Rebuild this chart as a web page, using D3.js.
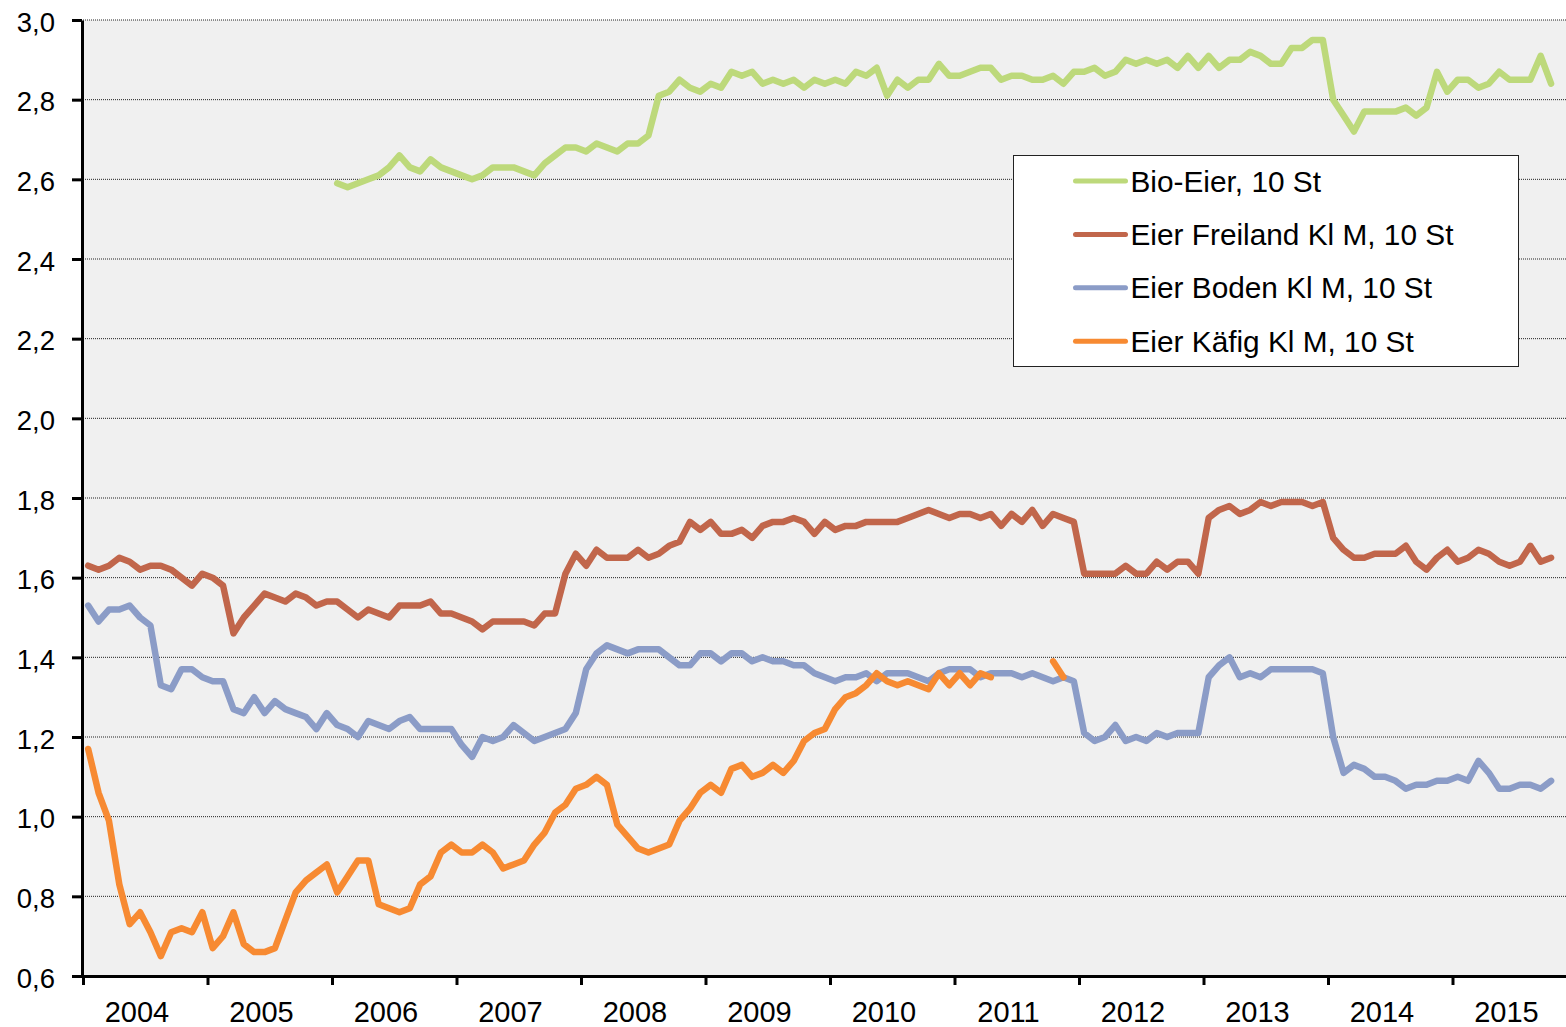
<!DOCTYPE html>
<html>
<head>
<meta charset="utf-8">
<script src="https://cdn.jsdelivr.net/npm/d3@7"></script>
<style>
  html, body { margin: 0; padding: 0; background: #fff; }
  svg { display: block; font-family: "Liberation Sans", Arial, sans-serif; }
</style>
</head>
<body>
<svg id="chart" width="1566" height="1027"></svg>
<script>
// Jahre auf der x-Achse (Monatswerte Jan 2004 - Okt 2015)
const years = [2004, 2005, 2006, 2007, 2008, 2009, 2010, 2011, 2012, 2013, 2014, 2015];
const yTicks = [0.6, 0.8, 1.0, 1.2, 1.4, 1.6, 1.8, 2.0, 2.2, 2.4, 2.6, 2.8, 3.0];
const seriesNames = ["Bio-Eier, 10 St", "Eier Freiland Kl M, 10 St", "Eier Boden Kl M, 10 St", "Eier Käfig Kl M, 10 St"];
const seriesColors = ["#bdd97b", "#c1664b", "#8b9cc7", "#f78a32"];

const bio = [
  null, null, null, null, null, null, null, null, null, null, null, null,
  null, null, null, null, null, null, null, null, null, null, null, null,
  2.59, 2.58, 2.59, 2.60, 2.61, 2.63, 2.66, 2.63, 2.62, 2.65, 2.63, 2.62,
  2.61, 2.60, 2.61, 2.63, 2.63, 2.63, 2.62, 2.61, 2.64, 2.66, 2.68, 2.68,
  2.67, 2.69, 2.68, 2.67, 2.69, 2.69, 2.71, 2.81, 2.82, 2.85, 2.83, 2.82,
  2.84, 2.83, 2.87, 2.86, 2.87, 2.84, 2.85, 2.84, 2.85, 2.83, 2.85, 2.84,
  2.85, 2.84, 2.87, 2.86, 2.88, 2.81, 2.85, 2.83, 2.85, 2.85, 2.89, 2.86,
  2.86, 2.87, 2.88, 2.88, 2.85, 2.86, 2.86, 2.85, 2.85, 2.86, 2.84, 2.87,
  2.87, 2.88, 2.86, 2.87, 2.90, 2.89, 2.90, 2.89, 2.90, 2.88, 2.91, 2.88,
  2.91, 2.88, 2.90, 2.90, 2.92, 2.91, 2.89, 2.89, 2.93, 2.93, 2.95, 2.95,
  2.80, 2.76, 2.72, 2.77, 2.77, 2.77, 2.77, 2.78, 2.76, 2.78, 2.87, 2.82,
  2.85, 2.85, 2.83, 2.84, 2.87, 2.85, 2.85, 2.85, 2.91, 2.84
];

const freiland = [
  1.63, 1.62, 1.63, 1.65, 1.64, 1.62, 1.63, 1.63, 1.62, 1.60, 1.58, 1.61,
  1.60, 1.58, 1.46, 1.50, 1.53, 1.56, 1.55, 1.54, 1.56, 1.55, 1.53, 1.54,
  1.54, 1.52, 1.50, 1.52, 1.51, 1.50, 1.53, 1.53, 1.53, 1.54, 1.51, 1.51,
  1.50, 1.49, 1.47, 1.49, 1.49, 1.49, 1.49, 1.48, 1.51, 1.51, 1.61, 1.66,
  1.63, 1.67, 1.65, 1.65, 1.65, 1.67, 1.65, 1.66, 1.68, 1.69, 1.74, 1.72,
  1.74, 1.71, 1.71, 1.72, 1.70, 1.73, 1.74, 1.74, 1.75, 1.74, 1.71, 1.74,
  1.72, 1.73, 1.73, 1.74, 1.74, 1.74, 1.74, 1.75, 1.76, 1.77, 1.76, 1.75,
  1.76, 1.76, 1.75, 1.76, 1.73, 1.76, 1.74, 1.77, 1.73, 1.76, 1.75, 1.74,
  1.61, 1.61, 1.61, 1.61, 1.63, 1.61, 1.61, 1.64, 1.62, 1.64, 1.64, 1.61,
  1.75, 1.77, 1.78, 1.76, 1.77, 1.79, 1.78, 1.79, 1.79, 1.79, 1.78, 1.79,
  1.70, 1.67, 1.65, 1.65, 1.66, 1.66, 1.66, 1.68, 1.64, 1.62, 1.65, 1.67,
  1.64, 1.65, 1.67, 1.66, 1.64, 1.63, 1.64, 1.68, 1.64, 1.65
];

const boden = [
  1.53, 1.49, 1.52, 1.52, 1.53, 1.50, 1.48, 1.33, 1.32, 1.37, 1.37, 1.35,
  1.34, 1.34, 1.27, 1.26, 1.30, 1.26, 1.29, 1.27, 1.26, 1.25, 1.22, 1.26,
  1.23, 1.22, 1.20, 1.24, 1.23, 1.22, 1.24, 1.25, 1.22, 1.22, 1.22, 1.22,
  1.18, 1.15, 1.20, 1.19, 1.20, 1.23, 1.21, 1.19, 1.20, 1.21, 1.22, 1.26,
  1.37, 1.41, 1.43, 1.42, 1.41, 1.42, 1.42, 1.42, 1.40, 1.38, 1.38, 1.41,
  1.41, 1.39, 1.41, 1.41, 1.39, 1.40, 1.39, 1.39, 1.38, 1.38, 1.36, 1.35,
  1.34, 1.35, 1.35, 1.36, 1.34, 1.36, 1.36, 1.36, 1.35, 1.34, 1.36, 1.37,
  1.37, 1.37, 1.35, 1.36, 1.36, 1.36, 1.35, 1.36, 1.35, 1.34, 1.35, 1.34,
  1.21, 1.19, 1.20, 1.23, 1.19, 1.20, 1.19, 1.21, 1.20, 1.21, 1.21, 1.21,
  1.35, 1.38, 1.40, 1.35, 1.36, 1.35, 1.37, 1.37, 1.37, 1.37, 1.37, 1.36,
  1.20, 1.11, 1.13, 1.12, 1.10, 1.10, 1.09, 1.07, 1.08, 1.08, 1.09, 1.09,
  1.10, 1.09, 1.14, 1.11, 1.07, 1.07, 1.08, 1.08, 1.07, 1.09
];

const kaefig = [
  1.17, 1.06, 0.99, 0.83, 0.73, 0.76, 0.71, 0.65, 0.71, 0.72, 0.71, 0.76,
  0.67, 0.70, 0.76, 0.68, 0.66, 0.66, 0.67, 0.74, 0.81, 0.84, 0.86, 0.88,
  0.81, 0.85, 0.89, 0.89, 0.78, 0.77, 0.76, 0.77, 0.83, 0.85, 0.91, 0.93,
  0.91, 0.91, 0.93, 0.91, 0.87, 0.88, 0.89, 0.93, 0.96, 1.01, 1.03, 1.07,
  1.08, 1.10, 1.08, 0.98, 0.95, 0.92, 0.91, 0.92, 0.93, 0.99, 1.02, 1.06,
  1.08, 1.06, 1.12, 1.13, 1.10, 1.11, 1.13, 1.11, 1.14, 1.19, 1.21, 1.22,
  1.27, 1.30, 1.31, 1.33, 1.36, 1.34, 1.33, 1.34, 1.33, 1.32, 1.36, 1.33,
  1.36, 1.33, 1.36, 1.35, null, null, null, null, null, 1.39, 1.35, null,
  null, null, null, null, null, null, null, null, null, null, null, null,
  null, null, null, null, null, null, null, null, null, null, null, null,
  null, null, null, null, null, null, null, null, null, null, null, null,
  null, null, null, null, null, null, null, null, null, null
];

const series = [bio, freiland, boden, kaefig];

const svg = d3.select("#chart");
const plot = { left: 83, top: 20, bottom: 976, right: 1566 };
const monthCount = years.length * 12;

// Monatsindex -> x (Kategorieachse, Punkt in Kategoriemitte)
const x = d3.scaleLinear()
    .domain([0, monthCount])
    .range([plot.left, plot.left + monthCount * 10.375]);
const y = d3.scaleLinear()
    .domain([0.6, 3.0])
    .range([plot.bottom, plot.top]);

// Zeichenfläche
svg.append("rect")
    .attr("x", plot.left)
    .attr("y", plot.top)
    .attr("width", plot.right - plot.left)
    .attr("height", plot.bottom - plot.top)
    .attr("fill", "#f0f0f0");

// gepunktete Gitterlinien
svg.append("g")
    .selectAll("line")
    .data(yTicks.filter(t => t > 0.6))
    .enter().append("line")
    .attr("x1", plot.left)
    .attr("x2", plot.right)
    .attr("y1", d => y(d))
    .attr("y2", d => y(d))
    .attr("stroke", "#222")
    .attr("stroke-width", 1)
    .attr("stroke-dasharray", "1,1");

// Linien
const line = d3.line()
    .defined(d => d != null)
    .x((d, i) => x(i + 0.5))
    .y(d => y(d));

svg.append("g")
    .selectAll("path")
    .data(series)
    .enter().append("path")
    .attr("d", d => line(d))
    .attr("fill", "none")
    .attr("stroke", (d, i) => seriesColors[i])
    .attr("stroke-width", 6.5)
    .attr("stroke-linejoin", "round")
    .attr("stroke-linecap", "round");

// y-Achse
const yAxis = svg.append("g")
    .attr("transform", `translate(${plot.left - 1},0)`)
    .call(d3.axisLeft(y)
        .tickValues(yTicks)
        .tickSize(10)
        .tickSizeOuter(0)
        .tickPadding(17)
        .tickFormat(d => d.toFixed(1).replace(".", ",")));
yAxis.select(".domain").attr("stroke", "#000").attr("stroke-width", 3);
yAxis.selectAll(".tick line").attr("stroke", "#000").attr("stroke-width", 3);
yAxis.selectAll(".tick text")
    .attr("fill", "#000")
    .attr("dy", "0.4em")
    .style("font-size", "27.5px")
    .style("font-family", "'Liberation Sans', Arial, sans-serif");

// x-Achse: Striche an den Jahresgrenzen
const xAxis = svg.append("g")
    .attr("transform", `translate(0,${plot.bottom})`)
    .call(d3.axisBottom(x)
        .tickValues(years.map((yr, k) => k * 12))
        .tickSize(9)
        .tickSizeOuter(0)
        .tickFormat(""));
xAxis.select(".domain").attr("stroke", "#000").attr("stroke-width", 3);
xAxis.selectAll(".tick line").attr("stroke", "#000").attr("stroke-width", 3);

// Jahresbeschriftung
svg.append("g")
    .selectAll("text")
    .data(years)
    .enter().append("text")
    .attr("x", (d, k) => x(k * 12 + 5.2))
    .attr("y", 1022)
    .attr("text-anchor", "middle")
    .style("font-size", "29px")
    .text(d => d);

// Legende
const legend = svg.append("g").attr("transform", "translate(1013.5,155.5)");
legend.append("rect")
    .attr("width", 505)
    .attr("height", 211)
    .attr("fill", "#fff")
    .attr("stroke", "#222")
    .attr("stroke-width", 1);

const rows = legend.selectAll(".row")
    .data(seriesNames)
    .enter().append("g")
    .attr("class", "row")
    .attr("transform", (d, i) => `translate(0,${25.5 + i * 53.4})`);
rows.append("line")
    .attr("x1", 62)
    .attr("x2", 112)
    .attr("stroke", (d, i) => seriesColors[i])
    .attr("stroke-width", 5)
    .attr("stroke-linecap", "round");
rows.append("text")
    .attr("x", 117)
    .attr("y", 10.5)
    .style("font-size", "29.8px")
    .text(d => d);
</script>
</body>
</html>
